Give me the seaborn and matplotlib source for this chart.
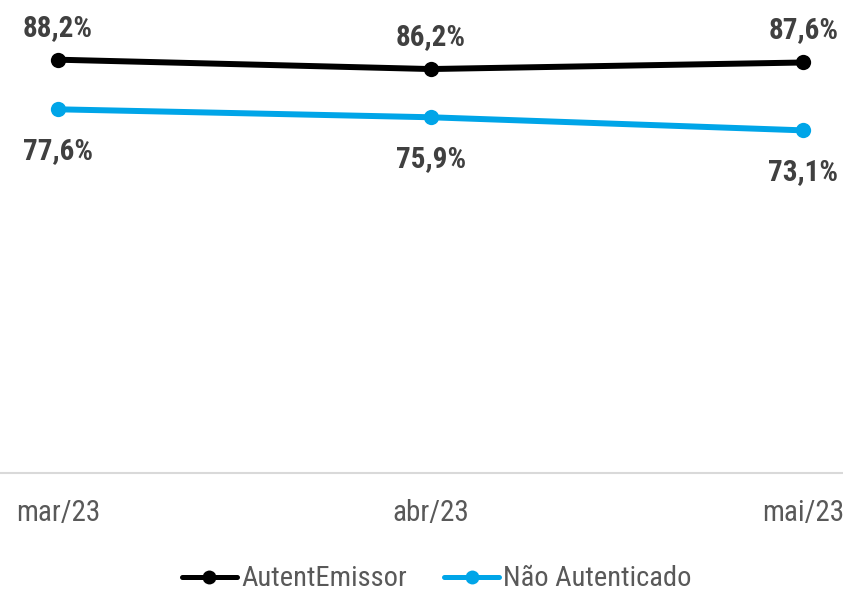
import pandas as pd
import seaborn as sns
import matplotlib.pyplot as plt

# data
meses = ["mar/23", "abr/23", "mai/23"]
autent_emissor = [88.2, 86.2, 87.6]
nao_autenticado = [77.6, 75.9, 73.1]

df = pd.DataFrame({"mes": meses,
                   "AutentEmissor": autent_emissor,
                   "Não Autenticado": nao_autenticado})

sns.set_style("white")
plt.rcParams['font.family'] = ['Roboto Condensed', 'DejaVu Sans']

fig = plt.figure(figsize=(8.43, 5.94), dpi=100)
ax = fig.add_axes([0, 0.2045, 1, 0.788])

preto = "#000000"
azul = "#00A5E8"

sns.lineplot(data=df, x="mes", y="AutentEmissor", ax=ax, color=preto,
             linewidth=4.3, marker="o", markersize=11, markeredgewidth=0,
             label="AutentEmissor")
sns.lineplot(data=df, x="mes", y="Não Autenticado", ax=ax, color=azul,
             linewidth=4.3, marker="o", markersize=11, markeredgewidth=0,
             label="Não Autenticado")

# rótulos de valor
for i, v in enumerate(autent_emissor):
    ax.annotate(f"{v:.1f}%".replace(".", ","), (i, v), xytext=(0, 17.3),
                textcoords="offset points", ha="center", va="baseline",
                fontsize=21, fontweight="bold", color="#404040")
for i, v in enumerate(nao_autenticado):
    ax.annotate(f"{v:.1f}%".replace(".", ","), (i, v), xytext=(0, -35.6),
                textcoords="offset points", ha="center", va="baseline",
                fontsize=21, fontweight="bold", color="#404040")

ax.set_ylim(0, 100)
ax.set_xlim(-0.1557, 2.107)
ax.set_xlabel("")
ax.set_ylabel("")
ax.set_yticks([])
ax.tick_params(axis="x", length=0, labelsize=21, labelcolor="#595959", pad=19)

for s in ["top", "left", "right"]:
    ax.spines[s].set_visible(False)
ax.spines["bottom"].set_color("#D9D9D9")
ax.spines["bottom"].set_linewidth(1.5)

leg = ax.legend(loc="center", bbox_to_anchor=(0.518, 1 - 579 / 594),
                bbox_transform=fig.transFigure, ncol=2, frameon=False,
                fontsize=20.5, handlelength=1.95, handletextpad=0.14,
                columnspacing=1.3, borderaxespad=0, borderpad=0)
for t in leg.get_texts():
    t.set_color("#595959")
for h in leg.get_lines():
    h.set_linewidth(3.6)
    h.set_markersize(10)

fig.savefig("out.png", dpi=100)
